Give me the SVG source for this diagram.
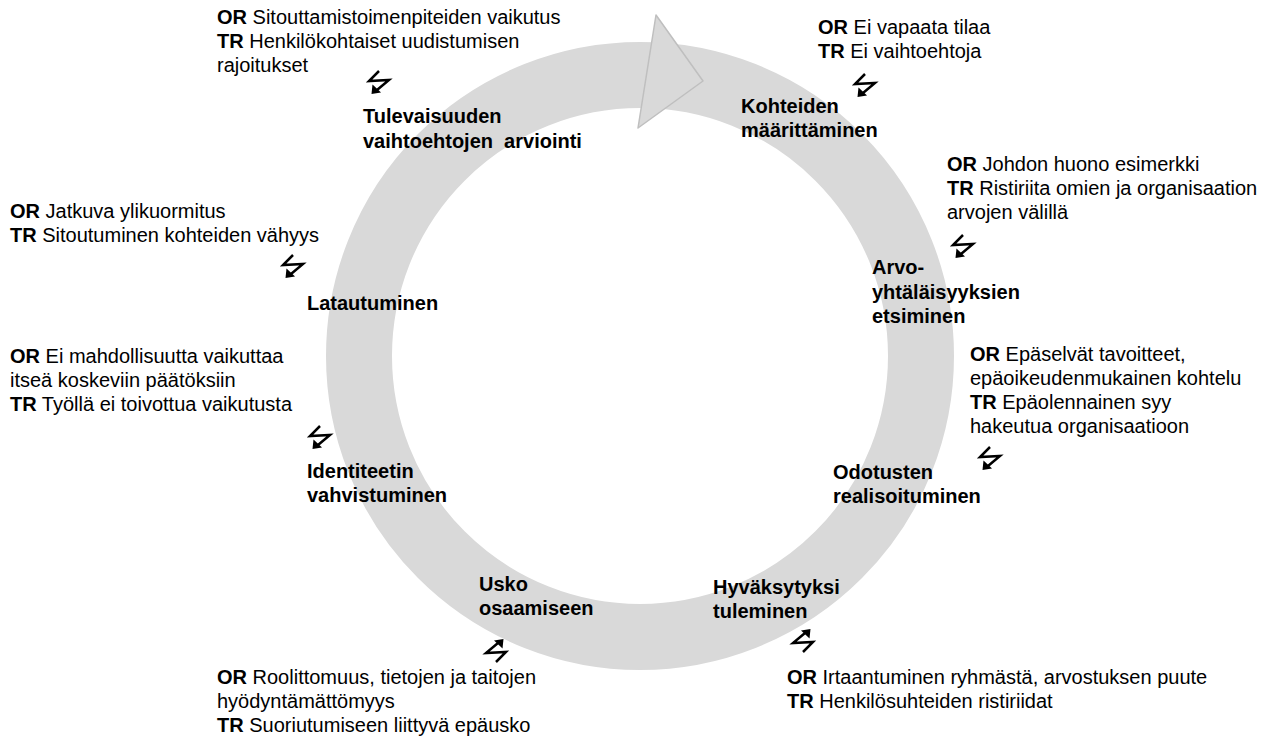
<svg xmlns="http://www.w3.org/2000/svg" xmlns:xlink="http://www.w3.org/1999/xlink" width="1267" height="739" viewBox="0 0 1267 739">
<style>
text{font-family:"Liberation Sans",Arial,sans-serif;font-size:20px;fill:#000;white-space:pre}
.b{font-weight:bold}
.l{font-weight:bold}
.bolt{fill:none;stroke:#000;stroke-width:2.5;stroke-linejoin:miter;stroke-linecap:butt}
</style>
<defs>
<g id="bolt">
<path class="bolt" d="M12 1 L2 11 L22 10 L10 20"/>
<polygon points="4.5,24 5.5,14.5 14,22.5" fill="#000"/>
</g>
</defs>
<rect width="1267" height="739" fill="#fff"/>
<g id="connectors">
<circle cx="640" cy="356" r="281" fill="none" stroke="#d9d9d9" stroke-width="66"/>
<polygon points="656,15 703,81 638,128" fill="#d9d9d9" stroke="#bfbfbf" stroke-width="1.5" stroke-linejoin="round"/>
</g>
<g id="n-tulevaisuus">
<text x="217" y="24"><tspan class="b">OR</tspan> Sitouttamistoimenpiteiden vaikutus</text>
<text x="217" y="48"><tspan class="b">TR</tspan> Henkilökohtaiset uudistumisen</text>
<text x="217" y="72">rajoitukset</text>
<use xlink:href="#bolt" transform="translate(367,70)"/>
<text class="l" x="363" y="123">Tulevaisuuden</text>
<text class="l" x="363" y="148">vaihtoehtojen  arviointi</text>
</g>
<g id="n-kohteet">
<text x="818" y="34"><tspan class="b">OR</tspan> Ei vapaata tilaa</text>
<text x="818" y="58"><tspan class="b">TR</tspan> Ei vaihtoehtoja</text>
<use xlink:href="#bolt" transform="translate(853,73)"/>
<text class="l" x="741" y="113">Kohteiden</text>
<text class="l" x="741" y="137">määrittäminen</text>
</g>
<g id="n-arvo">
<text x="947" y="171"><tspan class="b">OR</tspan> Johdon huono esimerkki</text>
<text x="947" y="195"><tspan class="b">TR</tspan> Ristiriita omien ja organisaation</text>
<text x="947" y="219">arvojen välillä</text>
<use xlink:href="#bolt" transform="translate(951,234)"/>
<text class="l" x="872" y="274">Arvo-</text>
<text class="l" x="872" y="299">yhtäläisyyksien</text>
<text class="l" x="872" y="323">etsiminen</text>
</g>
<g id="n-odotukset">
<text x="970" y="361"><tspan class="b">OR</tspan> Epäselvät tavoitteet,</text>
<text x="970" y="385">epäoikeudenmukainen kohtelu</text>
<text x="970" y="409"><tspan class="b">TR</tspan> Epäolennainen syy</text>
<text x="970" y="433">hakeutua organisaatioon</text>
<use xlink:href="#bolt" transform="translate(978,446)"/>
<text class="l" x="833" y="479">Odotusten</text>
<text class="l" x="833" y="503">realisoituminen</text>
</g>
<g id="n-hyvaksytyksi">
<text class="l" x="713" y="594">Hyväksytyksi</text>
<text class="l" x="713" y="618">tuleminen</text>
<use xlink:href="#bolt" transform="translate(815,653) rotate(180)"/>
<text x="787" y="684"><tspan class="b">OR</tspan> Irtaantuminen ryhmästä, arvostuksen puute</text>
<text x="787" y="708"><tspan class="b">TR</tspan> Henkilösuhteiden ristiriidat</text>
</g>
<g id="n-usko">
<text class="l" x="479" y="591">Usko</text>
<text class="l" x="479" y="615">osaamiseen</text>
<use xlink:href="#bolt" transform="translate(508,663) rotate(180)"/>
<text x="217" y="684"><tspan class="b">OR</tspan> Roolittomuus, tietojen ja taitojen</text>
<text x="217" y="708">hyödyntämättömyys</text>
<text x="217" y="732"><tspan class="b">TR</tspan> Suoriutumiseen liittyvä epäusko</text>
</g>
<g id="n-identiteetti">
<text x="10" y="363"><tspan class="b">OR</tspan> Ei mahdollisuutta vaikuttaa</text>
<text x="10" y="387">itseä koskeviin päätöksiin</text>
<text x="10" y="411"><tspan class="b">TR</tspan> Työllä ei toivottua vaikutusta</text>
<use xlink:href="#bolt" transform="translate(308,425)"/>
<text class="l" x="307" y="478">Identiteetin</text>
<text class="l" x="307" y="502">vahvistuminen</text>
</g>
<g id="n-latautuminen">
<text x="10" y="218"><tspan class="b">OR</tspan> Jatkuva ylikuormitus</text>
<text x="10" y="242"><tspan class="b">TR</tspan> Sitoutuminen kohteiden vähyys</text>
<use xlink:href="#bolt" transform="translate(281,254)"/>
<text class="l" x="307" y="310">Latautuminen</text>
</g>
</svg>
